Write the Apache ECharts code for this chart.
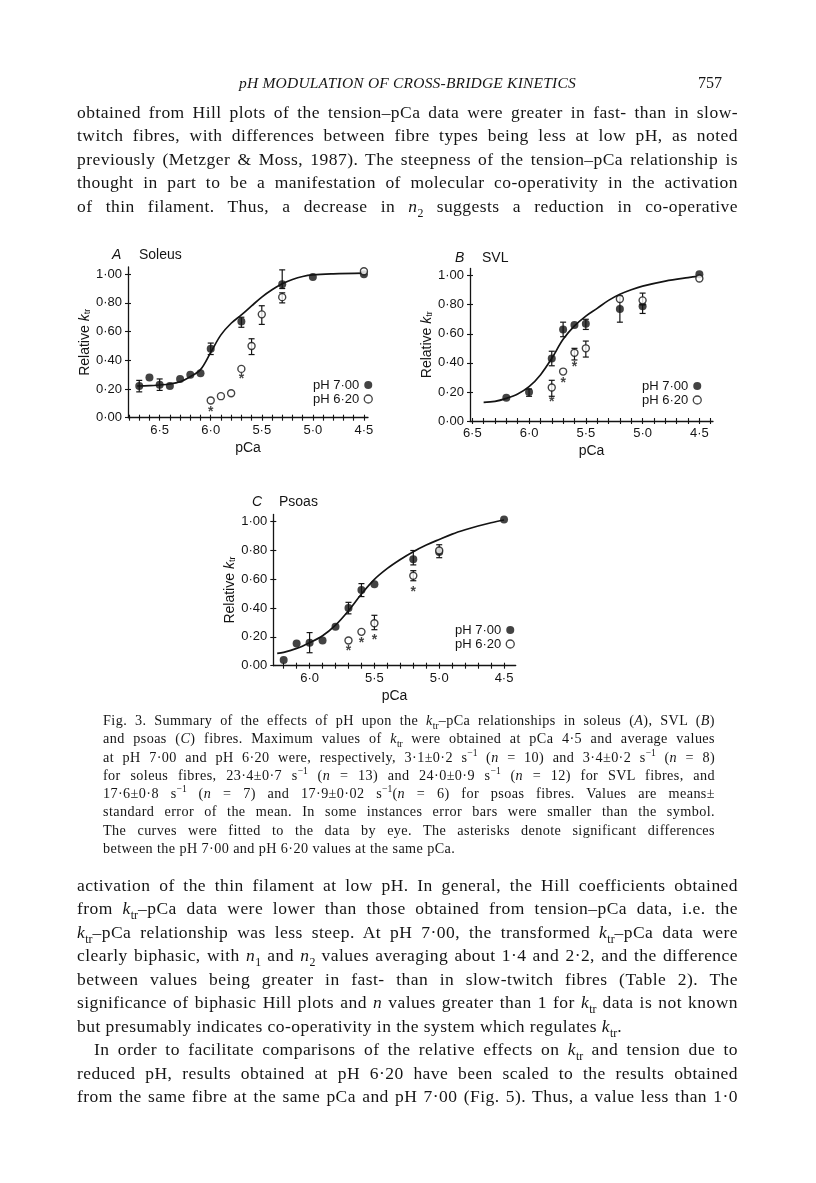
<!DOCTYPE html>
<html>
<head>
<meta charset="utf-8">
<script src="https://cdn.jsdelivr.net/npm/echarts@6/dist/echarts.min.js"></script>
<style>
  html, body { margin: 0; padding: 0; background: #fff; }
  #page { position: relative; width: 816px; height: 1183px; overflow: hidden; background: #fff; }
  #chart { position: absolute; left: 0; top: 0; width: 816px; height: 1183px; }
  .txt { position: absolute; font-family: "Liberation Serif", serif; color: #151515; }
  .txt div { text-align: justify; text-align-last: justify; }
  .txt div.last { text-align-last: left; }
  .body { left: 77px; width: 661px; font-size: 17.5px; line-height: 23.45px; letter-spacing: 0.45px; }
  .cap { left: 103px; width: 612px; font-size: 14.2px; line-height: 18.3px; letter-spacing: 0.4px; }
  sub, sup { font-size: 68%; line-height: 0; letter-spacing: 0; }
</style>
</head>
<body>
<div id="page">
  <div id="chart"></div>

  <div class="txt" style="left:77px; width:661px; top:74px; font-size:15.5px; font-style:italic; text-align:center; letter-spacing:0.2px;">pH MODULATION OF CROSS-BRIDGE KINETICS</div>
  <div class="txt" style="right:94px; top:74px; font-size:16px;">757</div>

  <div class="txt body" style="top:101px;">
    <div>obtained from Hill plots of the tension–pCa data were greater in fast- than in slow-</div>
    <div>twitch fibres, with differences between fibre types being less at low pH, as noted</div>
    <div>previously (Metzger &amp; Moss, 1987). The steepness of the tension–pCa relationship is</div>
    <div>thought in part to be a manifestation of molecular co-operativity in the activation</div>
    <div>of thin filament. Thus, a decrease in <i>n</i><sub>2</sub> suggests a reduction in co-operative</div>
  </div>

  <div class="txt cap" style="top:711px;">
    <div>Fig. 3. Summary of the effects of pH upon the <i>k</i><sub>tr</sub>–pCa relationships in soleus (<i>A</i>), SVL (<i>B</i>)</div>
    <div>and psoas (<i>C</i>) fibres. Maximum values of <i>k</i><sub>tr</sub> were obtained at pCa 4·5 and average values</div>
    <div>at pH 7·00 and pH 6·20 were, respectively, 3·1±0·2 s<sup>−1</sup> (<i>n</i> = 10) and 3·4±0·2 s<sup>−1</sup> (<i>n</i> = 8)</div>
    <div>for soleus fibres, 23·4±0·7 s<sup>−1</sup> (<i>n</i> = 13) and 24·0±0·9 s<sup>−1</sup> (<i>n</i> = 12) for SVL fibres, and</div>
    <div>17·6±0·8 s<sup>−1</sup> (<i>n</i> = 7) and 17·9±0·02 s<sup>−1</sup>(<i>n</i> = 6) for psoas fibres. Values are means±</div>
    <div>standard error of the mean. In some instances error bars were smaller than the symbol.</div>
    <div>The curves were fitted to the data by eye. The asterisks denote significant differences</div>
    <div class="last">between the pH 7·00 and pH 6·20 values at the same pCa.</div>
  </div>

  <div class="txt body" style="top:874px;">
    <div>activation of the thin filament at low pH. In general, the Hill coefficients obtained</div>
    <div>from <i>k</i><sub>tr</sub>–pCa data were lower than those obtained from tension–pCa data, i.e. the</div>
    <div><i>k</i><sub>tr</sub>–pCa relationship was less steep. At pH 7·00, the transformed <i>k</i><sub>tr</sub>–pCa data were</div>
    <div>clearly biphasic, with <i>n</i><sub>1</sub> and <i>n</i><sub>2</sub> values averaging about 1·4 and 2·2, and the difference</div>
    <div>between values being greater in fast- than in slow-twitch fibres (Table 2). The</div>
    <div>significance of biphasic Hill plots and <i>n</i> values greater than 1 for <i>k</i><sub>tr</sub> data is not known</div>
    <div class="last">but presumably indicates co-operativity in the system which regulates <i>k</i><sub>tr</sub>.</div>
    <div style="text-indent:17px;">In order to facilitate comparisons of the relative effects on <i>k</i><sub>tr</sub> and tension due to</div>
    <div>reduced pH, results obtained at pH 6·20 have been scaled to the results obtained</div>
    <div>from the same fibre at the same pCa and pH 7·00 (Fig. 5). Thus, a value less than 1·0</div>
  </div>
</div>

<script>
// ---- data: pCa vs relative ktr ----
// A  Soleus
const solPCa7 = [6.7, 6.6, 6.5, 6.4, 6.3, 6.2, 6.1, 6.0, 5.7, 5.3, 5.0, 4.5];
const solK7 = [0.22, 0.28, 0.23, 0.22, 0.27, 0.30, 0.31, 0.48, 0.67, 0.93, 0.98, 1.00];
const solPCa62 = [6.0, 5.9, 5.8, 5.7, 5.6, 5.5, 5.3, 4.5];
const solK62 = [0.12, 0.15, 0.17, 0.34, 0.50, 0.72, 0.84, 1.02];
const solErr7 = [[6.7, 0.18, 0.26], [6.5, 0.19, 0.27], [6.0, 0.44, 0.52], [5.7, 0.63, 0.70], [5.3, 0.90, 1.03]];
const solErr62 = [[5.6, 0.44, 0.55], [5.5, 0.65, 0.78], [5.3, 0.80, 0.87]];
const solStars = [[6.0, 0.06], [5.7, 0.29]];
const solFitPCa = [6.72, 6.6, 6.5, 6.4, 6.3, 6.2, 6.1, 6.0, 5.9, 5.8, 5.7, 5.6, 5.5, 5.4, 5.3, 5.2, 5.1, 5.0, 4.8, 4.5];
const solFitK = [0.221, 0.223, 0.228, 0.235, 0.251, 0.286, 0.335, 0.455, 0.577, 0.658, 0.716, 0.779, 0.84, 0.891, 0.933, 0.963, 0.984, 0.995, 1.002, 1.007];

// B  SVL
const svlPCa7 = [6.2, 6.0, 5.8, 5.7, 5.6, 5.5, 5.2, 5.0, 4.5];
const svlK7 = [0.16, 0.20, 0.43, 0.63, 0.66, 0.67, 0.77, 0.79, 1.01];
const svlPCa62 = [5.8, 5.7, 5.6, 5.5, 5.2, 5.0, 4.5];
const svlK62 = [0.23, 0.34, 0.47, 0.50, 0.84, 0.83, 0.98];
const svlErr7 = [[6.0, 0.17, 0.22], [5.8, 0.38, 0.48], [5.7, 0.58, 0.68], [5.5, 0.63, 0.70], [5.2, 0.68, 0.86], [5.0, 0.74, 0.80]];
const svlErr62 = [[5.8, 0.17, 0.28], [5.6, 0.42, 0.50], [5.5, 0.44, 0.55], [5.0, 0.80, 0.88]];
const svlStars = [[5.8, 0.15], [5.7, 0.28], [5.6, 0.39]];
const svlFitPCa = [6.4, 6.3, 6.2, 6.1, 6.0, 5.9, 5.8, 5.7, 5.6, 5.5, 5.4, 5.3, 5.2, 5.1, 5.0, 4.8, 4.6, 4.5];
const svlFitK = [0.128, 0.135, 0.156, 0.186, 0.236, 0.317, 0.431, 0.562, 0.654, 0.722, 0.775, 0.83, 0.872, 0.903, 0.928, 0.963, 0.987, 0.997];

// C  Psoas
const psoPCa7 = [6.2, 6.1, 6.0, 5.9, 5.8, 5.7, 5.6, 5.5, 5.2, 5.0, 4.5];
const psoK7 = [0.04, 0.155, 0.16, 0.175, 0.27, 0.40, 0.525, 0.565, 0.74, 0.79, 1.015];
const psoPCa62 = [5.7, 5.6, 5.5, 5.2, 5.0];
const psoK62 = [0.175, 0.235, 0.295, 0.625, 0.80];
const psoErr7 = [[6.0, 0.09, 0.23], [5.7, 0.36, 0.44], [5.6, 0.48, 0.57], [5.2, 0.70, 0.80], [5.0, 0.75, 0.84]];
const psoErr62 = [[5.5, 0.25, 0.35], [5.2, 0.59, 0.66]];
const psoStars = [[5.7, 0.12], [5.6, 0.18], [5.5, 0.20], [5.2, 0.535]];
const psoFitPCa = [6.25, 6.2, 6.1, 6.0, 5.9, 5.8, 5.7, 5.6, 5.5, 5.4, 5.3, 5.2, 5.1, 5.0, 4.9, 4.8, 4.7, 4.6, 4.5];
const psoFitK = [0.086, 0.093, 0.12, 0.16, 0.208, 0.282, 0.382, 0.498, 0.60, 0.676, 0.738, 0.792, 0.838, 0.877, 0.914, 0.944, 0.97, 0.993, 1.012];

// tick labels
const pcaLabelsAB = [6.5, 6.0, 5.5, 5.0, 4.5];
const pcaLabelsC = [6.0, 5.5, 5.0, 4.5];
const kLabels = [0, 0.2, 0.4, 0.6, 0.8, 1.0];
const legendNames = ['pH 7·00', 'pH 6·20'];

const INK = '#141414';
const SANS = '"Liberation Sans", Arial, sans-serif';

const panels = [
  { letter: 'A', name: 'Soleus', p7: solPCa7, k7: solK7, p62: solPCa62, k62: solK62,
    e7: solErr7, e62: solErr62, stars: solStars, fp: solFitPCa, fk: solFitK, labels: pcaLabelsAB,
    grid: { left: 128, top: 267, width: 240, height: 150.7 }, xMin: 4.46, xMax: 6.81,
    titlePos: { left: 107, top: 243 }, legendPos: { left: 308, top: 373 } },
  { letter: 'B', name: 'SVL', p7: svlPCa7, k7: svlK7, p62: svlPCa62, k62: svlK62,
    e7: svlErr7, e62: svlErr62, stars: svlStars, fp: svlFitPCa, fk: svlFitK, labels: pcaLabelsAB,
    grid: { left: 470, top: 268.4, width: 243, height: 152.6 }, xMin: 4.38, xMax: 6.52,
    titlePos: { left: 450, top: 246 }, legendPos: { left: 637, top: 374 } },
  { letter: 'C', name: 'Psoas', p7: psoPCa7, k7: psoK7, p62: psoPCa62, k62: psoK62,
    e7: psoErr7, e62: psoErr62, stars: psoStars, fp: psoFitPCa, fk: psoFitK, labels: pcaLabelsC,
    grid: { left: 273.3, top: 514.5, width: 242.4, height: 151.2 }, xMin: 4.41, xMax: 6.28,
    titlePos: { left: 247, top: 490 }, legendPos: { left: 450, top: 618 } }
];

function minorTicks(lo, hi) {
  const out = [];
  for (let t = Math.ceil(lo * 10 - 1e-6); t <= Math.floor(hi * 10 + 1e-6); t++) out.push(t / 10);
  return out;
}
const dot = s => s.replace('.', '·');

function errItem(params, api) {
  const x = api.value(0);
  const lo = api.coord([x, api.value(1)]);
  const hi = api.coord([x, api.value(2)]);
  const w = 3;
  const style = { stroke: INK, lineWidth: 1.2 };
  return {
    type: 'group',
    children: [
      { type: 'line', shape: { x1: lo[0], y1: lo[1], x2: hi[0], y2: hi[1] }, style },
      { type: 'line', shape: { x1: lo[0] - w, y1: lo[1], x2: lo[0] + w, y2: lo[1] }, style },
      { type: 'line', shape: { x1: hi[0] - w, y1: hi[1], x2: hi[0] + w, y2: hi[1] }, style }
    ]
  };
}

const zip = (a, b) => a.map((v, i) => [v, b[i]]);

const grid = [], xAxis = [], yAxis = [], series = [], title = [], legend = [];
panels.forEach((p, i) => {
  grid.push(p.grid);
  const ticks = minorTicks(p.xMin, p.xMax);
  const xBase = {
    type: 'value', gridIndex: i, position: 'bottom', min: p.xMin, max: p.xMax, inverse: true,
    splitLine: { show: false }
  };
  xAxis.push(Object.assign({}, xBase, {
    name: 'pCa', nameLocation: 'middle', nameGap: 23,
    nameTextStyle: { fontFamily: SANS, fontSize: 14, color: INK },
    axisLine: { lineStyle: { color: INK, width: 1.3 } },
    axisTick: { length: 3, lineStyle: { color: INK, width: 1.1 }, customValues: ticks },
    axisLabel: { customValues: p.labels, margin: 6, fontFamily: SANS, fontSize: 13, color: INK,
      formatter: v => dot(v.toFixed(1)) }
  }));
  xAxis.push(Object.assign({}, xBase, {
    axisLine: { show: false },
    axisTick: { inside: true, length: 3, lineStyle: { color: INK, width: 1.1 }, customValues: ticks },
    axisLabel: { show: false }
  }));
  const yBase = { type: 'value', gridIndex: i, position: 'left', min: 0, max: 1.05, splitLine: { show: false } };
  yAxis.push(Object.assign({}, yBase, {
    name: '{t|Relative }{k|k}{s|tr}', nameLocation: 'middle', nameGap: 31,
    nameTextStyle: {
      fontFamily: SANS, color: INK,
      rich: {
        t: { fontFamily: SANS, fontSize: 14, color: INK },
        k: { fontFamily: SANS, fontSize: 14, fontStyle: 'italic', color: INK },
        s: { fontFamily: SANS, fontSize: 9, color: INK, verticalAlign: 'bottom', padding: [5, 0, 0, 0] }
      }
    },
    axisLine: { show: true, lineStyle: { color: INK, width: 1.3 } },
    axisTick: { show: true, length: 3, lineStyle: { color: INK, width: 1.1 }, customValues: kLabels },
    axisLabel: { customValues: kLabels, margin: 6, fontFamily: SANS, fontSize: 13, color: INK,
      formatter: v => dot(v.toFixed(2)) }
  }));
  yAxis.push(Object.assign({}, yBase, {
    axisLine: { show: false },
    axisTick: { show: true, inside: true, length: 3, lineStyle: { color: INK, width: 1.1 }, customValues: kLabels },
    axisLabel: { show: false }
  }));

  title.push({
    text: '{i|' + p.letter + '}{n|' + p.name + '}',
    left: p.titlePos.left, top: p.titlePos.top,
    textStyle: {
      fontWeight: 'normal',
      rich: {
        i: { fontFamily: SANS, fontSize: 14, fontStyle: 'italic', fontWeight: 'normal', color: INK, width: 27 },
        n: { fontFamily: SANS, fontSize: 14, fontWeight: 'normal', color: INK }
      }
    }
  });

  legend.push({
    left: p.legendPos.left, top: p.legendPos.top, orient: 'vertical', align: 'right',
    itemWidth: 8, itemHeight: 8, itemGap: 0, selectedMode: false,
    textStyle: { fontFamily: SANS, fontSize: 13, color: INK, lineHeight: 14 },
    data: [
      { name: legendNames[0], icon: 'circle', itemStyle: { color: INK, borderWidth: 0 } },
      { name: legendNames[1], icon: 'circle', itemStyle: { color: '#fff', borderColor: INK, borderWidth: 1.3 } }
    ]
  });

  const ax = { xAxisIndex: 2 * i, yAxisIndex: 2 * i };
  series.push(Object.assign({
    type: 'line', name: 'fit' + i, data: zip(p.fp, p.fk), smooth: 0.35, showSymbol: false,
    lineStyle: { color: INK, width: 1.7 }, z: 1, clip: false, silent: true
  }, ax));
  series.push(Object.assign({
    type: 'custom', name: 'err7-' + i, data: p.e7, renderItem: errItem, z: 2, silent: true,
    encode: { x: 0, y: [1, 2] }
  }, ax));
  series.push(Object.assign({
    type: 'custom', name: 'err62-' + i, data: p.e62, renderItem: errItem, z: 2, silent: true,
    encode: { x: 0, y: [1, 2] }
  }, ax));
  series.push(Object.assign({
    type: 'scatter', name: legendNames[0], data: zip(p.p7, p.k7), symbol: 'circle', symbolSize: 8,
    itemStyle: { color: INK }, z: 3, clip: false
  }, ax));
  series.push(Object.assign({
    type: 'scatter', name: legendNames[1], data: zip(p.p62, p.k62), symbol: 'circle', symbolSize: 7,
    itemStyle: { color: '#fff', borderColor: INK, borderWidth: 1.4 }, z: 4, clip: false
  }, ax));
  series.push(Object.assign({
    type: 'scatter', name: 'stars' + i, data: p.stars, symbolSize: 1,
    itemStyle: { color: 'rgba(0,0,0,0)' }, z: 4, silent: true,
    label: { show: true, position: 'inside', formatter: '*', offset: [0, 3],
      fontFamily: SANS, fontSize: 14, fontWeight: 'bold', color: INK }
  }, ax));
});

const myChart = echarts.init(document.getElementById('chart'));
myChart.setOption({
  animation: false,
  backgroundColor: 'rgba(0,0,0,0)',
  title: title,
  legend: legend,
  grid: grid,
  xAxis: xAxis,
  yAxis: yAxis,
  series: series
});
</script>
</body>
</html>
